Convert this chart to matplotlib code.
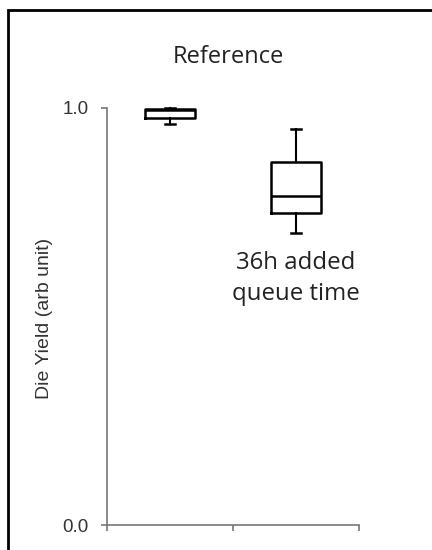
import matplotlib
matplotlib.use("Agg")
import matplotlib.pyplot as plt
from matplotlib.patches import Rectangle

# data
groups = ["Reference", "36h added queue time"]
whislo = [0.962, 0.700]
q1 = [0.975, 0.748]
med = [0.995, 0.790]
q3 = [0.997, 0.870]
whishi = [1.000, 0.949]

title = "Reference"
note = "36h added\nqueue time"
ylabel = "Die Yield (arb unit)"
yticks = [0.0, 1.0]

fig = plt.figure(figsize=(4.32, 5.5), dpi=100)
ax = fig.add_axes([107 / 432, 1 - 525 / 550, 252 / 432, 417 / 550])

stats = [dict(label=g, whislo=lo, q1=a, med=m, q3=b, whishi=hi)
         for g, lo, a, m, b, hi in zip(groups, whislo, q1, med, q3, whishi)]
art = ax.bxp(stats, positions=[1, 2], widths=0.4, showfliers=False,
             boxprops=dict(color="black", linewidth=1.8),
             medianprops=dict(color="black", linewidth=1.8),
             whiskerprops=dict(color="black", linewidth=1.5),
             capprops=dict(color="black", linewidth=1.8),
             capwidths=0.08)
for k in art:
    for a in art[k]:
        a.set_clip_on(False)

ax.set_xlim(0.5, 2.5)
ax.set_ylim(0, 1.0)
ax.set_xticks([0.5, 1.5, 2.5])
ax.set_xticklabels([])
ax.set_yticks(yticks)
ax.set_yticklabels([f"{v:.1f}" for v in yticks], family="Liberation Sans",
                   fontsize=13.5, color="#333333")
for s in ["top", "right"]:
    ax.spines[s].set_visible(False)
for s in ["left", "bottom"]:
    ax.spines[s].set_color("#777777")
    ax.spines[s].set_linewidth(1.2)
ax.tick_params(axis="both", colors="#777777", length=4.5, width=1.2)
ax.tick_params(axis="y", labelcolor="#333333", pad=9)

ax.set_ylabel(ylabel, family="Liberation Sans", fontsize=14, color="#333333")
ax.yaxis.set_label_coords(-0.214, 0.495)

fig.text(228 / 432, 1 - 57 / 550, title, family="Open Sans", fontsize=17,
         ha="center", va="center", color="#222222")
ax.text(2, 0.592, note, family="Open Sans", fontsize=17.3, ha="center",
        va="center", linespacing=1.4, color="#222222")

# frame around the slide
fig.patches.append(Rectangle((8 / 432, -0.1), 1.2, 1.1 - 10 / 550,
                             transform=fig.transFigure, fill=False,
                             edgecolor="black", linewidth=2.0))

fig.savefig("out.png", dpi=100)
